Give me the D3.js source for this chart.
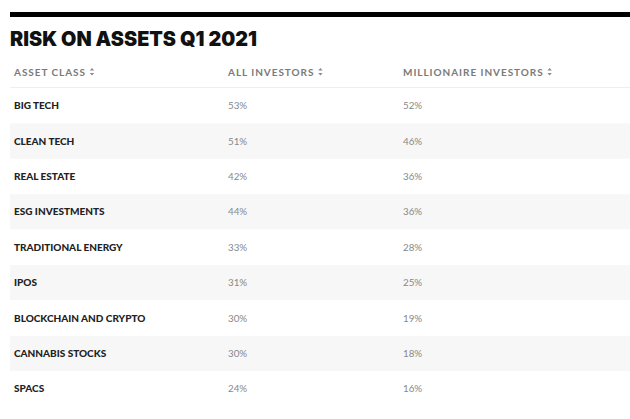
<!DOCTYPE html>
<html><head><meta charset="utf-8">
<script src="https://cdn.jsdelivr.net/npm/d3@7"></script>
<style>body{margin:0;background:#fff}svg{display:block}</style>
</head><body>
<svg id="c" width="630" height="419"></svg>
<script>
const title = "RISK ON ASSETS Q1 2021";
const headers = ["ASSET CLASS", "ALL INVESTORS", "MILLIONAIRE INVESTORS"];
const assetClasses = ["BIG TECH","CLEAN TECH","REAL ESTATE","ESG INVESTMENTS","TRADITIONAL ENERGY","IPOS","BLOCKCHAIN AND CRYPTO","CANNABIS STOCKS","SPACS"];
const allInvestors = [53,51,42,44,33,31,30,30,24];
const millionaireInvestors = [52,46,36,36,28,25,19,18,16];

const svg = d3.select("#c");
const W = 630;
const font = "Lato, 'Open Sans', sans-serif";

// top rule
svg.append("rect").attr("x",10).attr("y",12).attr("width",W-10).attr("height",5).attr("fill","#000");

svg.append("text").attr("x",10).attr("y",46).text(title)
  .attr("font-family","Inter, sans-serif").attr("font-weight",900).attr("font-size",20.5)
  .attr("fill","#111").attr("textLength",247).attr("lengthAdjust","spacingAndGlyphs");

const colX = d3.scaleOrdinal().domain(headers).range([14,228,403]);
const y = d3.scaleBand().domain(d3.range(assetClasses.length)).range([88,406.6]);

// header
const hg = svg.append("g");
headers.forEach(h=>{
  const t = hg.append("text").attr("x",colX(h)).attr("y",75.5).text(h)
    .attr("font-family",font).attr("font-weight",700).attr("font-size",10)
    .attr("letter-spacing",0.95).attr("fill","#7a7a7a");
  const w = t.node().getComputedTextLength();
  const ix = colX(h)+w+6;
  hg.append("path").attr("d",`M${ix-2.2},70.5 L${ix+2.2},70.5 L${ix},68 Z M${ix-2.2},73 L${ix+2.2},73 L${ix},75.5 Z`).attr("fill","#8a8a8a");
});
svg.append("line").attr("x1",10).attr("x2",W).attr("y1",87.5).attr("y2",87.5).attr("stroke","#eeeeee");

const rows = svg.append("g").selectAll("g").data(assetClasses).join("g")
  .attr("transform",(d,i)=>`translate(0,${y(i)})`);
rows.append("rect").attr("x",10).attr("width",W-10).attr("height",y.bandwidth())
  .attr("fill",(d,i)=>i%2? "#f7f7f7":"#fff");
rows.append("text").attr("x",colX(headers[0])).attr("y",y.bandwidth()/2+3.6).text(d=>d)
  .attr("font-family",font).attr("font-weight",900).attr("font-size",10).attr("fill","#222");
rows.append("text").attr("x",colX(headers[1])).attr("y",y.bandwidth()/2+3.6).text((d,i)=>allInvestors[i]+"%")
  .attr("font-family",font).attr("font-size",9.8).attr("fill","#888");
rows.append("text").attr("x",colX(headers[2])).attr("y",y.bandwidth()/2+3.6).text((d,i)=>millionaireInvestors[i]+"%")
  .attr("font-family",font).attr("font-size",9.8).attr("fill","#888");
</script>
</body></html>
